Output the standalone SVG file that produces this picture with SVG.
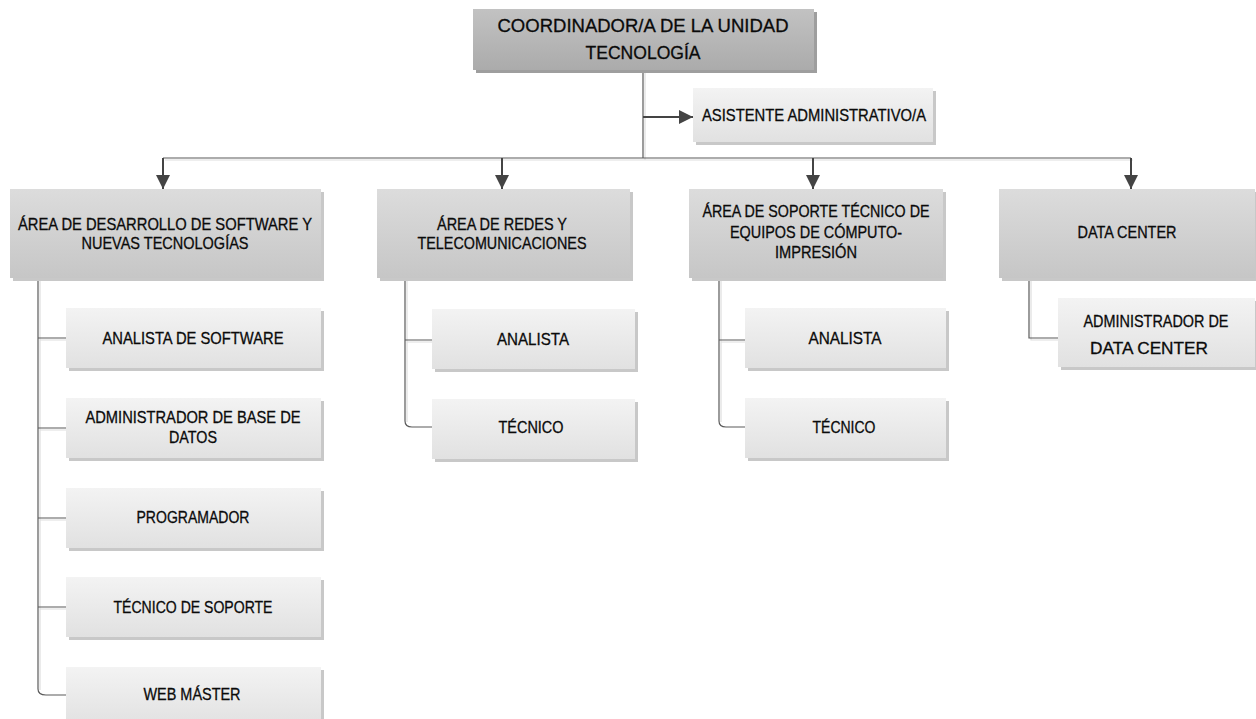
<svg xmlns="http://www.w3.org/2000/svg" width="1256" height="719" viewBox="0 0 1256 719">
<defs>
<linearGradient id="gTop" x1="0" y1="0" x2="0" y2="1"><stop offset="0" stop-color="#c2c2c2"/><stop offset="1" stop-color="#ababab"/></linearGradient>
<linearGradient id="gMid" x1="0" y1="0" x2="0" y2="1"><stop offset="0" stop-color="#dcdcdc"/><stop offset="1" stop-color="#c6c6c6"/></linearGradient>
<linearGradient id="gLow" x1="0" y1="0" x2="0" y2="1"><stop offset="0" stop-color="#f3f3f3"/><stop offset="1" stop-color="#e1e1e1"/></linearGradient>
<marker id="arr" viewBox="0 0 14 14" refX="14" refY="7" markerWidth="14" markerHeight="14" markerUnits="userSpaceOnUse" orient="auto"><path d="M0,0 L14,7 L0,14 Z" fill="#444"/></marker>
</defs>
<style>
text{font-family:"Liberation Sans","DejaVu Sans",sans-serif;fill:#0a0a0a;stroke:#0a0a0a;stroke-width:0.3;text-anchor:middle}
.t{font-size:18.5px}
.m{font-size:16.5px}
.sh{fill:#c8c8c8}
.shd{fill:#9e9e9e}
.top{fill:url(#gTop)}
.mid{fill:url(#gMid)}
.low{fill:url(#gLow)}
.ln{fill:none;stroke:#5a5a5a;stroke-width:1.2}
.lnl{fill:none;stroke:#dedede;stroke-width:1.2}
.ar{fill:none;stroke:#444;stroke-width:2}
</style>
<g id="connectors">
<path class="lnl" d="M645,71 V160 M165,160 H1133"/>
<path class="ln" d="M643,70 V158 M163,158 H1131"/>
<path class="ar" d="M643,117 H693" marker-end="url(#arr)"/>
<path class="ar" d="M163,158 V189" marker-end="url(#arr)"/>
<path class="ar" d="M502,158 V189" marker-end="url(#arr)"/>
<path class="ar" d="M813,158 V189" marker-end="url(#arr)"/>
<path class="ar" d="M1131,158 V189" marker-end="url(#arr)"/>
<path class="lnl" d="M40,279 V690 M40,340 H66 M40,430 H66 M40,520 H66 M40,609 H66"/>
<path class="ln" d="M38,278 V689 Q38,695 46,695 H66 M38,338 H66 M38,428 H66 M38,518 H66 M38,607 H66"/>
<path class="lnl" d="M407,279 V422 M407,342 H432"/>
<path class="ln" d="M405,278 V421 Q405,427 412,427 H432 M405,340 H432"/>
<path class="lnl" d="M721,279 V422 M721,342 H745"/>
<path class="ln" d="M719,278 V421 Q719,427 726,427 H745 M719,340 H745"/>
<path class="lnl" d="M1031,279 V340 H1058"/>
<path class="ln" d="M1029,278 V338 H1058"/>
</g>
<g id="n-coord">
<rect class="shd" x="476" y="12" width="341" height="61"/>
<rect class="top" x="473" y="9" width="341" height="61"/>
<text class="t" x="643" y="32" textLength="291" lengthAdjust="spacingAndGlyphs">COORDINADOR/A DE LA UNIDAD</text>
<text class="t" x="643" y="59" textLength="115" lengthAdjust="spacingAndGlyphs">TECNOLOGÍA</text>
</g>
<g id="n-asist">
<rect class="sh" x="696" y="91" width="240" height="54"/>
<rect class="low" x="693" y="88" width="240" height="54"/>
<text class="m" x="814" y="121" textLength="224" lengthAdjust="spacingAndGlyphs">ASISTENTE ADMINISTRATIVO/A</text>
</g>
<g id="n-area1">
<rect class="sh" x="13" y="192" width="311" height="89"/>
<rect class="mid" x="10" y="189" width="311" height="89"/>
<text class="m" x="165" y="230" textLength="294" lengthAdjust="spacingAndGlyphs">ÁREA DE DESARROLLO DE SOFTWARE Y</text>
<text class="m" x="165" y="249" textLength="167" lengthAdjust="spacingAndGlyphs">NUEVAS TECNOLOGÍAS</text>
</g>
<g id="n-area2">
<rect class="sh" x="380" y="192" width="253" height="89"/>
<rect class="mid" x="377" y="189" width="253" height="89"/>
<text class="m" x="502" y="230" textLength="130" lengthAdjust="spacingAndGlyphs">ÁREA DE REDES Y</text>
<text class="m" x="502" y="249" textLength="169" lengthAdjust="spacingAndGlyphs">TELECOMUNICACIONES</text>
</g>
<g id="n-area3">
<rect class="sh" x="692" y="192" width="254" height="89"/>
<rect class="mid" x="689" y="189" width="254" height="89"/>
<text class="m" x="816" y="217" textLength="227" lengthAdjust="spacingAndGlyphs">ÁREA DE SOPORTE TÉCNICO DE</text>
<text class="m" x="816" y="238" textLength="172" lengthAdjust="spacingAndGlyphs">EQUIPOS DE CÓMPUTO-</text>
<text class="m" x="816" y="258" textLength="82" lengthAdjust="spacingAndGlyphs">IMPRESIÓN</text>
</g>
<g id="n-area4">
<rect class="sh" x="1002" y="192" width="256" height="89"/>
<rect class="mid" x="999" y="189" width="256" height="89"/>
<text class="m" x="1127" y="238" textLength="99" lengthAdjust="spacingAndGlyphs">DATA CENTER</text>
</g>
<g id="n-analista-sw">
<rect class="sh" x="69" y="311" width="255" height="60"/>
<rect class="low" x="66" y="308" width="255" height="60"/>
<text class="m" x="193" y="344" textLength="181" lengthAdjust="spacingAndGlyphs">ANALISTA DE SOFTWARE</text>
</g>
<g id="n-admin-bd">
<rect class="sh" x="69" y="401" width="255" height="60"/>
<rect class="low" x="66" y="398" width="255" height="60"/>
<text class="m" x="193" y="423" textLength="215" lengthAdjust="spacingAndGlyphs">ADMINISTRADOR DE BASE DE</text>
<text class="m" x="193" y="443" textLength="48" lengthAdjust="spacingAndGlyphs">DATOS</text>
</g>
<g id="n-programador">
<rect class="sh" x="69" y="491" width="255" height="60"/>
<rect class="low" x="66" y="488" width="255" height="60"/>
<text class="m" x="193" y="523" textLength="113" lengthAdjust="spacingAndGlyphs">PROGRAMADOR</text>
</g>
<g id="n-tec-soporte">
<rect class="sh" x="69" y="580" width="255" height="60"/>
<rect class="low" x="66" y="577" width="255" height="60"/>
<text class="m" x="193" y="613" textLength="159" lengthAdjust="spacingAndGlyphs">TÉCNICO DE SOPORTE</text>
</g>
<g id="n-webmaster">
<rect class="sh" x="69" y="670" width="255" height="60"/>
<rect class="low" x="66" y="667" width="255" height="60"/>
<text class="m" x="192" y="700" textLength="97" lengthAdjust="spacingAndGlyphs">WEB MÁSTER</text>
</g>
<g id="n-analista-redes">
<rect class="sh" x="435" y="312" width="203" height="60"/>
<rect class="low" x="432" y="309" width="203" height="60"/>
<text class="m" x="533" y="345" textLength="72" lengthAdjust="spacingAndGlyphs">ANALISTA</text>
</g>
<g id="n-tecnico-redes">
<rect class="sh" x="435" y="402" width="203" height="60"/>
<rect class="low" x="432" y="399" width="203" height="60"/>
<text class="m" x="531" y="433" textLength="65" lengthAdjust="spacingAndGlyphs">TÉCNICO</text>
</g>
<g id="n-analista-soporte">
<rect class="sh" x="748" y="311" width="201" height="60"/>
<rect class="low" x="745" y="308" width="201" height="60"/>
<text class="m" x="845" y="344" textLength="73" lengthAdjust="spacingAndGlyphs">ANALISTA</text>
</g>
<g id="n-tecnico-soporte">
<rect class="sh" x="748" y="401" width="201" height="60"/>
<rect class="low" x="745" y="398" width="201" height="60"/>
<text class="m" x="844" y="433" textLength="63" lengthAdjust="spacingAndGlyphs">TÉCNICO</text>
</g>
<g id="n-admin-dc">
<rect class="sh" x="1061" y="301" width="197" height="69"/>
<rect class="low" x="1058" y="298" width="197" height="69"/>
<text class="m" x="1156" y="327" textLength="145" lengthAdjust="spacingAndGlyphs">ADMINISTRADOR DE</text>
<text class="m" x="1149" y="354" textLength="118" lengthAdjust="spacingAndGlyphs">DATA CENTER</text>
</g>
</svg>
